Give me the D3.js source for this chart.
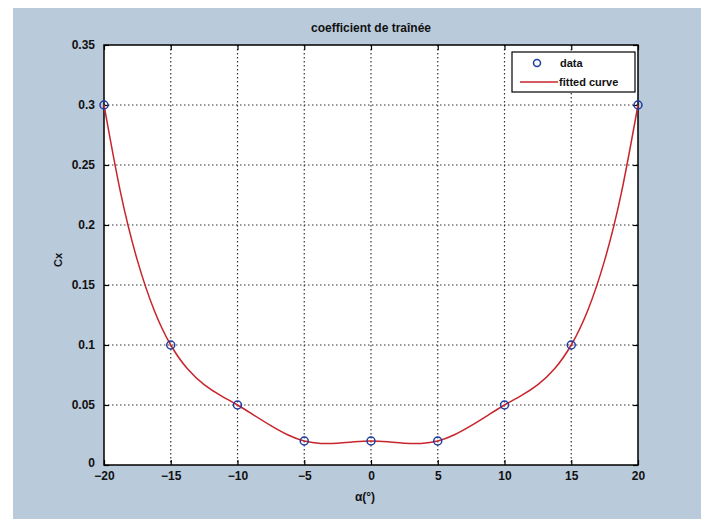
<!DOCTYPE html>
<html><head><meta charset="utf-8">
<script src="https://cdn.jsdelivr.net/npm/d3@7"></script>
<style>
html,body{margin:0;padding:0;background:#fff;}
svg{display:block;}
text{font-family:"Liberation Sans",Arial,sans-serif;font-weight:bold;fill:#111;}
</style></head>
<body><svg id="c" width="708" height="519"></svg>
<script>
// data
const alphaDeg = [-20, -15, -10, -5, 0, 5, 10, 15, 20];
const cxData = [0.3, 0.1, 0.05, 0.02, 0.02, 0.02, 0.05, 0.1, 0.3];
// fitted curve values
const fitAlpha = [-20, -18.75, -17.5, -16.25, -15, -13.75, -12.5, -11.25, -10, -8.75, -7.5, -6.25, -5, -3.75, -2.5, -1.25, 0,
                  1.25, 2.5, 3.75, 5, 6.25, 7.5, 8.75, 10, 11.25, 12.5, 13.75, 15, 16.25, 17.5, 18.75, 20];
const fitCx = [0.3, 0.2265, 0.1705, 0.1292, 0.1, 0.0802, 0.0670, 0.0578, 0.05, 0.0414, 0.0328, 0.0252, 0.02, 0.0180, 0.0182, 0.0193, 0.02,
               0.0193, 0.0182, 0.0180, 0.02, 0.0252, 0.0328, 0.0414, 0.05, 0.0578, 0.0670, 0.0802, 0.1, 0.1292, 0.1705, 0.2265, 0.3];
const xTicks = [-20, -15, -10, -5, 0, 5, 10, 15, 20];
const yTicks = [0, 0.05, 0.1, 0.15, 0.2, 0.25, 0.3, 0.35];
const yTickLabels = ["0", "0.05", "0.1", "0.15", "0.2", "0.25", "0.3", "0.35"];
const titleText = "coefficient de traînée";
const xLabel = "α(°)";
const yLabel = "Cx";
const legendLabels = ["data", "fitted curve"];

const svg = d3.select("#c");
// figure background
svg.append("rect").attr("x", 13).attr("y", 8).attr("width", 688).attr("height", 511).attr("fill", "#b9cadb");

const L = 104, R = 638, T = 45, B = 465;
const x = d3.scaleLinear().domain([-20, 20]).range([L, R]);
const y = d3.scaleLinear().domain([0, 0.35]).range([B, T]);

svg.append("rect").attr("x", L).attr("y", T).attr("width", R - L).attr("height", B - T).attr("fill", "#fff");

// grid
const g = svg.append("g");
g.selectAll(".vg").data(xTicks.slice(1, -1)).enter().append("line")
  .attr("x1", d => x(d)).attr("x2", d => x(d)).attr("y1", T).attr("y2", B)
  .attr("stroke", "#333").attr("stroke-width", 1.2).attr("stroke-dasharray", "1.5,2.5");
g.selectAll(".hg").data(yTicks.slice(1, -1)).enter().append("line")
  .attr("y1", d => y(d)).attr("y2", d => y(d)).attr("x1", L).attr("x2", R)
  .attr("stroke", "#333").attr("stroke-width", 1.2).attr("stroke-dasharray", "1.5,2.5");

// axes with inward ticks
const xAxisB = d3.axisBottom(x).tickValues(xTicks).tickSize(-5).tickPadding(9).tickFormat(d3.format("d"));
const xAxisT = d3.axisTop(x).tickValues(xTicks).tickSize(-5).tickFormat("");
const yAxisL = d3.axisLeft(y).tickValues(yTicks).tickSize(-5).tickPadding(9).tickFormat((d, i) => yTickLabels[i]);
const yAxisR = d3.axisRight(y).tickValues(yTicks).tickSize(-5).tickFormat("");

function style(sel) {
  sel.select(".domain").remove();
  sel.selectAll("line").attr("stroke", "#000").attr("stroke-width", 1.2);
  sel.selectAll("text").style("font-size", "12px").attr("fill", "#111");
}
const gb = svg.append("g").attr("transform", `translate(0,${B})`).call(xAxisB).call(style);
gb.selectAll("text").attr("dy", "0.71em").attr("y", 6);
svg.append("g").attr("transform", `translate(0,${T})`).call(xAxisT).call(style);
const gl = svg.append("g").attr("transform", `translate(${L},0)`).call(yAxisL).call(style);
gl.selectAll(".tick").filter(d => d === 0).select("text").attr("dy", "0.1em");
svg.append("g").attr("transform", `translate(${R},0)`).call(yAxisR).call(style);

svg.append("rect").attr("x", L).attr("y", T).attr("width", R - L).attr("height", B - T)
  .attr("fill", "none").attr("stroke", "#000").attr("stroke-width", 1.5);

// fitted curve
const line = d3.line().x(d => x(d[0])).y(d => y(d[1])).curve(d3.curveNatural);
svg.append("path").datum(fitAlpha.map((a, i) => [a, fitCx[i]]))
  .attr("d", line).attr("fill", "none").attr("stroke", "#c8242c").attr("stroke-width", 1.5);

// data points
svg.selectAll(".pt").data(alphaDeg.map((a, i) => [a, cxData[i]])).enter().append("circle")
  .attr("cx", d => x(d[0])).attr("cy", d => y(d[1])).attr("r", 4)
  .attr("fill", "none").attr("stroke", "#1f3ca0").attr("stroke-width", 1.5);

// title and labels
svg.append("text").attr("x", (L + R) / 2).attr("y", 32).attr("text-anchor", "middle")
  .style("font-size", "12px").text(titleText);
svg.append("text").attr("x", (L + R) / 2 - 6).attr("y", 501).attr("text-anchor", "middle")
  .style("font-size", "12px").text(xLabel);
svg.append("text").attr("transform", "translate(62,260) rotate(-90)").attr("text-anchor", "middle")
  .style("font-size", "11px").text(yLabel);

// legend
const lg = svg.append("g");
lg.append("rect").attr("x", 512).attr("y", 52).attr("width", 123).attr("height", 40)
  .attr("fill", "#fff").attr("stroke", "#000").attr("stroke-width", 1.2);
lg.append("circle").attr("cx", 537).attr("cy", 63).attr("r", 3.5)
  .attr("fill", "none").attr("stroke", "#1f3ca0").attr("stroke-width", 1.5);
lg.append("text").attr("x", 560).attr("y", 67).style("font-size", "11px").text(legendLabels[0]);
lg.append("line").attr("x1", 520).attr("x2", 558).attr("y1", 82).attr("y2", 82)
  .attr("stroke", "#c8242c").attr("stroke-width", 1.5);
lg.append("text").attr("x", 559).attr("y", 86).style("font-size", "11px").text(legendLabels[1]);
</script></body></html>
